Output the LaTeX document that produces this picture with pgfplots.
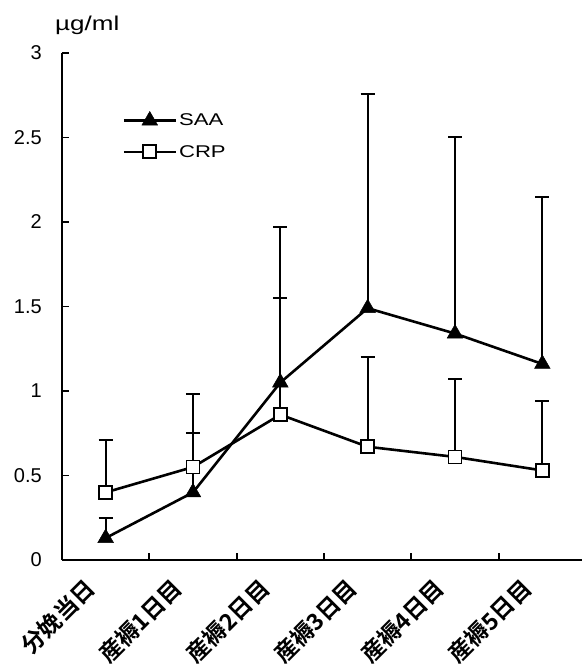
\documentclass[border=0pt]{standalone}
\usepackage{fontspec}
\setmainfont{Liberation Sans}
\newfontfamily\wide{Liberation Sans}[FakeStretch=1.3]
\newfontfamily\cjk{Noto Sans CJK JP Bold}
\usepackage{pgfplots}
\usepackage{pgfplotstable}
\pgfplotsset{compat=1.18}

\pgfplotstableread{
x y e
0 0.13 0.12
1 0.40 0.35
2 1.05 0.92
3 1.49 1.27
4 1.34 1.16
5 1.16 0.99
}\saa
\pgfplotstableread{
x y e
0 0.40 0.31
1 0.55 0.43
2 0.86 0.69
3 0.67 0.53
4 0.61 0.46
5 0.53 0.41
}\crp

\begin{document}
\begin{tikzpicture}
\path[use as bounding box] (-62pt,-106pt) rectangle (519pt,560pt);
\begin{axis}[
  at={(0,0)}, anchor=south west,
  scale only axis, width=524pt, height=507pt,
  xmin=-0.5, xmax=5.5, ymin=0, ymax=3,
  clip=false,
  axis x line=bottom, axis y line=left,
  axis line style={-, line width=2.2pt},
  tick align=inside,
  major tick length=7pt,
  tick style={line width=1.8pt, black},
  xtick={0.5,1.5,2.5,3.5,4.5},
  xticklabels={},
  extra x ticks={0,1,2,3,4,5},
  extra x tick labels={分娩当日,産褥1日目,産褥2日目,産褥3日目,産褥4日目,産褥5日目},
  extra x tick style={major tick length=0pt, tick style={draw=none},
    xticklabel style={xshift=-15pt, yshift=-24pt, rotate=45, anchor=east, inner sep=0pt,
      font=\cjk\fontsize{23}{27}\selectfont}},
  ytick={0,0.5,1,1.5,2,2.5,3},
  yticklabels={0,0.5,1,1.5,2,2.5,3},
  yticklabel style={font=\fontsize{20}{24}\selectfont, anchor=east, inner sep=0pt, xshift=-20pt},
  /pgf/number format/assume math mode=true,
  ylabel={µg/ml},
  every axis y label/.style={at={(rel axis cs:0,1)}, anchor=south west,
    xshift=-7pt, yshift=18pt, inner sep=0pt, font=\wide\fontsize{20}{24}\selectfont},
  legend style={at={(axis description cs:0.115,0.885)}, anchor=north west,
    draw=none, fill=none, font=\wide\fontsize{17}{20}\selectfont, row sep=14pt,
    inner sep=0pt, nodes={inner sep=2pt}},
  legend cell align=left,
  legend image code/.code={\draw[mark repeat=2,mark phase=2,#1] plot coordinates {(0pt,0pt) (26pt,0pt) (52pt,0pt)};},
]
\addplot[black, line width=2.6pt, mark=triangle*, mark size=9pt,
  mark options={solid, fill=black, line width=0.5pt},
  error bars/.cd, y dir=plus, y explicit,
  error bar style={line width=2pt},
  error mark options={rotate=90, mark size=7pt, line width=2pt}]
  table[x=x, y=y, y error=e] {\saa};
\addlegendentry{SAA}
\addplot[black, line width=2.6pt, mark=square*, mark size=6.5pt,
  mark options={solid, fill=white, line width=1.8pt},
  error bars/.cd, y dir=plus, y explicit,
  error bar style={line width=2pt},
  error mark options={rotate=90, mark size=7pt, line width=2pt}]
  table[x=x, y=y, y error=e] {\crp};
\addlegendentry{CRP}
\end{axis}
\end{tikzpicture}
\end{document}
